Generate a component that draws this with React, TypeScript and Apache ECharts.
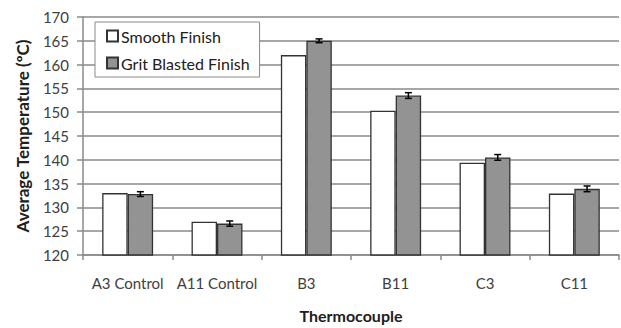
import React, { useEffect, useRef } from "react";
import * as echarts from "echarts";

const categories = ["A3 Control", "A11 Control", "B3", "B11", "C3", "C11"];
const smoothFinish = [133.0, 127.0, 162.0, 150.3, 139.4, 132.9];
const gritBlasted = [132.8, 126.6, 165.0, 153.5, 140.5, 133.9];
const gritError = [0.5, 0.55, 0.4, 0.6, 0.6, 0.6];
const yTicks = { min: 120, max: 170, interval: 5 };

const FONT = "Lato, 'Open Sans', sans-serif";
const TEXT = "#404040";
const GRID = "#8a8a8a";
const CAT_GAP = 0.43;

export default function App() {
  const ref = useRef<HTMLDivElement>(null);
  useEffect(() => {
    if (!ref.current) return;
    const chart = echarts.init(ref.current, undefined, { renderer: "svg" });
    const errData = categories.map((_, i) => [i, gritBlasted[i] - gritError[i], gritBlasted[i] + gritError[i]]);
    chart.setOption({
      animation: false,
      textStyle: { fontFamily: FONT },
      grid: { left: 83, right: 2, top: 17, bottom: 69, containLabel: false },
      legend: {
        orient: "vertical",
        left: 95,
        top: 22,
        data: ["Smooth Finish", "Grit Blasted Finish"],
        backgroundColor: "#ffffff",
        borderColor: "#8a8a8a",
        borderWidth: 1,
        padding: [6, 10, 6, 11],
        itemWidth: 11,
        itemHeight: 11,
        itemGap: 11,
        icon: "rect",
        textStyle: { fontFamily: FONT, fontSize: 16, color: "#202020", padding: [0, 0, 0, -2] },
      },
      xAxis: {
        type: "category",
        data: categories,
        name: "Thermocouple",
        nameLocation: "middle",
        nameGap: 52,
        nameTextStyle: { fontFamily: FONT, fontSize: 16, fontWeight: "bold", color: "#202020" },
        axisLine: { show: true, lineStyle: { color: GRID, width: 1.5 } },
        axisTick: { show: true, length: 5, lineStyle: { color: GRID, width: 1.5 } },
        axisLabel: { fontFamily: FONT, fontSize: 15, color: TEXT, margin: 20, interval: 0 },
      },
      yAxis: {
        type: "value",
        min: yTicks.min,
        max: yTicks.max,
        interval: yTicks.interval,
        name: "Average Temperature (ºC)",
        nameLocation: "middle",
        nameRotate: 90,
        nameGap: 52,
        nameTextStyle: { fontFamily: FONT, fontSize: 17, fontWeight: "bold", color: "#202020" },
        axisLine: { show: true, lineStyle: { color: GRID, width: 1.5 } },
        axisTick: { show: true, length: 6, lineStyle: { color: GRID, width: 1.5 } },
        axisLabel: { fontFamily: FONT, fontSize: 15, color: TEXT, margin: 14 },
        splitLine: { show: true, lineStyle: { color: GRID, width: 1.5 } },
      },
      series: [
        {
          name: "Smooth Finish",
          type: "bar",
          data: smoothFinish,
          barGap: "0%",
          barCategoryGap: CAT_GAP * 100 + "%",
          itemStyle: { color: "#ffffff", borderColor: "#333333", borderWidth: 1.3 },
        },
        {
          name: "Grit Blasted Finish",
          type: "bar",
          data: gritBlasted,
          barGap: "0%",
          barCategoryGap: CAT_GAP * 100 + "%",
          itemStyle: { color: "#939393", borderColor: "#333333", borderWidth: 1.3 },
        },
        {
          name: "Error",
          type: "custom",
          data: errData,
          encode: { x: 0, y: [1, 2] },
          z: 10,
          renderItem: (params: any, api: any) => {
            const idx = api.value(0);
            const lo = api.coord([idx, api.value(1)]);
            const hi = api.coord([idx, api.value(2)]);
            const catW = api.size([1, 0])[0];
            const barW = (catW * (1 - CAT_GAP)) / 2;
            const cx = lo[0] + barW / 2;
            const cap = 3.5;
            const style = { stroke: "#000000", lineWidth: 1.5 };
            return {
              type: "group",
              children: [
                { type: "line", shape: { x1: cx, y1: lo[1], x2: cx, y2: hi[1] }, style },
                { type: "line", shape: { x1: cx - cap, y1: lo[1], x2: cx + cap, y2: lo[1] }, style },
                { type: "line", shape: { x1: cx - cap, y1: hi[1], x2: cx + cap, y2: hi[1] }, style },
              ],
            };
          },
        },
      ],
    });
    return () => chart.dispose();
  }, []);
  return <div ref={ref} style={{ width: 621, height: 328, position: "absolute", left: 0, top: 0 }} />;
}
